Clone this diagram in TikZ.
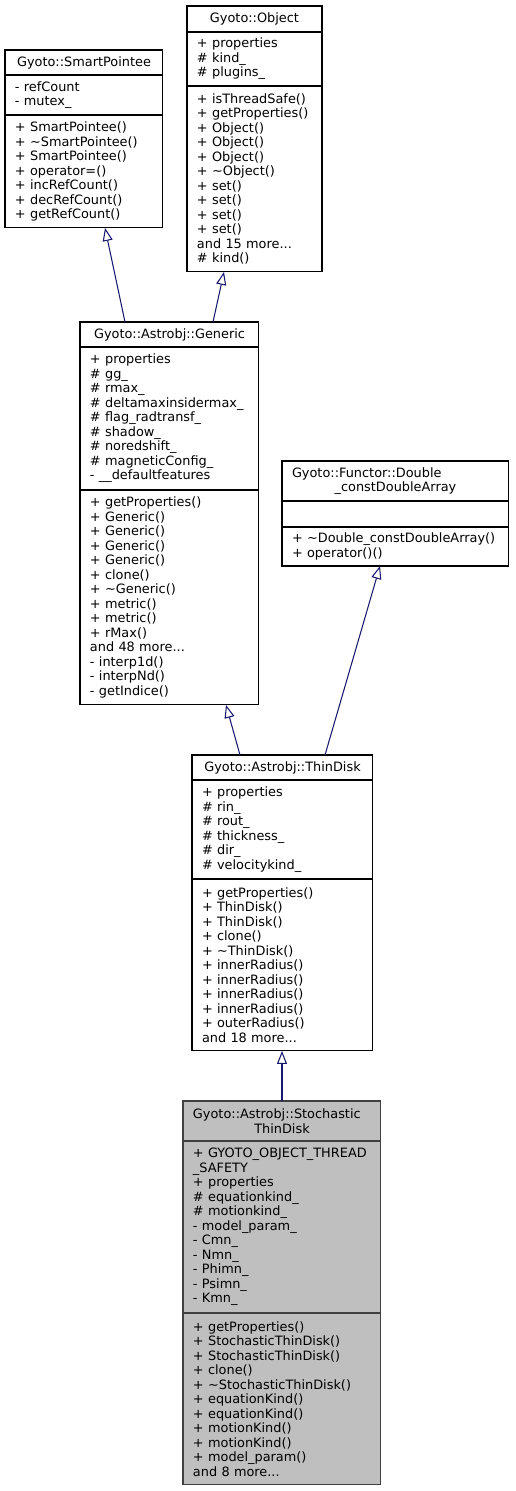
\documentclass[tikz,border=0pt]{standalone}
\usepackage{fontspec}
\newfontfamily\umlfont{DejaVu Sans}
\usepackage{tikz}
\usetikzlibrary{arrows.meta,positioning,calc}
\definecolor{edgeblue}{RGB}{25,25,112}
\definecolor{focusfill}{RGB}{191,191,191}
\definecolor{focusline}{RGB}{64,64,64}

\begin{document}
\begin{tikzpicture}[x=0.02cm,y=-0.02cm,
  part/.style={rectangle,draw=black,fill=white,line width=0.6pt,inner xsep=0.2cm,inner ysep=0pt,outer sep=0pt,
    align=left,font={\umlfont\fontsize{7.33}{8.25}\selectfont}},
  title/.style={part,align=center},
  focus/.style={draw=focusline,fill=focusfill},
  inh/.style={draw=edgeblue,line width=0.6pt,-{Triangle[open,length=0.26cm,width=0.2cm]}}]
  \useasboundingbox (0,0) rectangle (515,1491);
  % SmartPointee
  \node[title,anchor=north west,text width=2.76cm,minimum height=0.5cm] (spT) at (5,50) {Gyoto::SmartPointee};
  \node[part,below=0pt of spT,text width=2.76cm,minimum height=0.8cm] (spA) {- refCount\\- mutex\_};
  \node[part,below=0pt of spA,text width=2.76cm,minimum height=2.26cm] (spM) {+ SmartPointee()\\+ \textasciitilde SmartPointee()\\+ SmartPointee()\\+ operator=()\\+ incRefCount()\\+ decRefCount()\\+ getRefCount()};
  % Object
  \node[title,anchor=north west,text width=2.3cm,minimum height=0.52cm] (obT) at (187,6) {Gyoto::Object};
  \node[part,below=0pt of obT,text width=2.3cm,minimum height=1.08cm] (obA) {+ properties\\\# kind\_\\\# plugins\_};
  \node[part,below=0pt of obA,text width=2.3cm,minimum height=3.72cm] (obM) {+ isThreadSafe()\\+ getProperties()\\+ Object()\\+ Object()\\+ Object()\\+ \textasciitilde Object()\\+ set()\\+ set()\\+ set()\\+ set()\\and 15 more...\\\# kind()};
  % Generic
  \node[title,anchor=north west,text width=3.18cm,minimum height=0.5cm] (gnT) at (80,322) {Gyoto::Astrobj::Generic};
  \node[part,below=0pt of gnT,text width=3.18cm,minimum height=2.86cm] (gnA) {+ properties\\\# gg\_\\\# rmax\_\\\# deltamaxinsidermax\_\\\# flag\_radtransf\_\\\# shadow\_\\\# noredshift\_\\\# magneticConfig\_\\- \_\_defaultfeatures};
  \node[part,below=0pt of gnA,text width=3.18cm,minimum height=4.3cm] (gnM) {+ getProperties()\\+ Generic()\\+ Generic()\\+ Generic()\\+ Generic()\\+ clone()\\+ \textasciitilde Generic()\\+ metric()\\+ metric()\\+ rMax()\\and 48 more...\\- interp1d()\\- interpNd()\\- getIndice()};
  % Functor
  \node[title,anchor=north west,text width=4.14cm,minimum height=0.8cm] (fnT) at (282,461) {\makebox[\linewidth][l]{Gyoto::Functor::Double}\\\_constDoubleArray};
  \node[part,below=0pt of fnT,text width=4.14cm,minimum height=0.52cm] (fnA) {};
  \node[part,below=0pt of fnA,text width=4.14cm,minimum height=0.78cm] (fnM) {+ \textasciitilde Double\_constDoubleArray()\\+ operator()()};
  % ThinDisk
  \node[title,anchor=north west,text width=3.22cm,minimum height=0.5cm] (tdT) at (192,755) {Gyoto::Astrobj::ThinDisk};
  \node[part,below=0pt of tdT,text width=3.22cm,minimum height=1.98cm] (tdA) {+ properties\\\# rin\_\\\# rout\_\\\# thickness\_\\\# dir\_\\\# velocitykind\_};
  \node[part,below=0pt of tdA,text width=3.22cm,minimum height=3.44cm] (tdM) {+ getProperties()\\+ ThinDisk()\\+ ThinDisk()\\+ clone()\\+ \textasciitilde ThinDisk()\\+ innerRadius()\\+ innerRadius()\\+ innerRadius()\\+ innerRadius()\\+ outerRadius()\\and 18 more...};
  % StochasticThinDisk
  \node[title,focus,anchor=north west,text width=3.56cm,minimum height=0.8cm] (stT) at (183,1101) {\makebox[\linewidth][l]{Gyoto::Astrobj::Stochastic}\\ThinDisk};
  \node[part,focus,below=0pt of stT,text width=3.56cm,minimum height=3.44cm] (stA) {+ GYOTO\_OBJECT\_THREAD\\\_SAFETY\\+ properties\\\# equationkind\_\\\# motionkind\_\\- model\_param\_\\- Cmn\_\\- Nmn\_\\- Phimn\_\\- Psimn\_\\- Kmn\_};
  \node[part,focus,below=0pt of stA,text width=3.56cm,minimum height=3.44cm] (stM) {+ getProperties()\\+ StochasticThinDisk()\\+ StochasticThinDisk()\\+ clone()\\+ \textasciitilde StochasticThinDisk()\\+ equationKind()\\+ equationKind()\\+ motionKind()\\+ motionKind()\\+ model\_param()\\and 8 more...};
  % inheritance
  \draw[inh] ($(gnT.north west)+(45,0)$) -- ($(spM.south west)+(100,0)$);
  \draw[inh] ($(gnT.north west)+(133,0)$) -- ($(obM.south west)+(37,0)$);
  \draw[inh] ($(tdT.north west)+(48,0)$) -- ($(gnM.south west)+(146,0)$);
  \draw[inh] ($(tdT.north west)+(133,0)$) -- ($(fnM.south west)+(98,0)$);
  \draw[inh] ($(stT.north west)+(99,0)$) -- ($(tdM.south west)+(90,0)$);
\end{tikzpicture}
\end{document}
